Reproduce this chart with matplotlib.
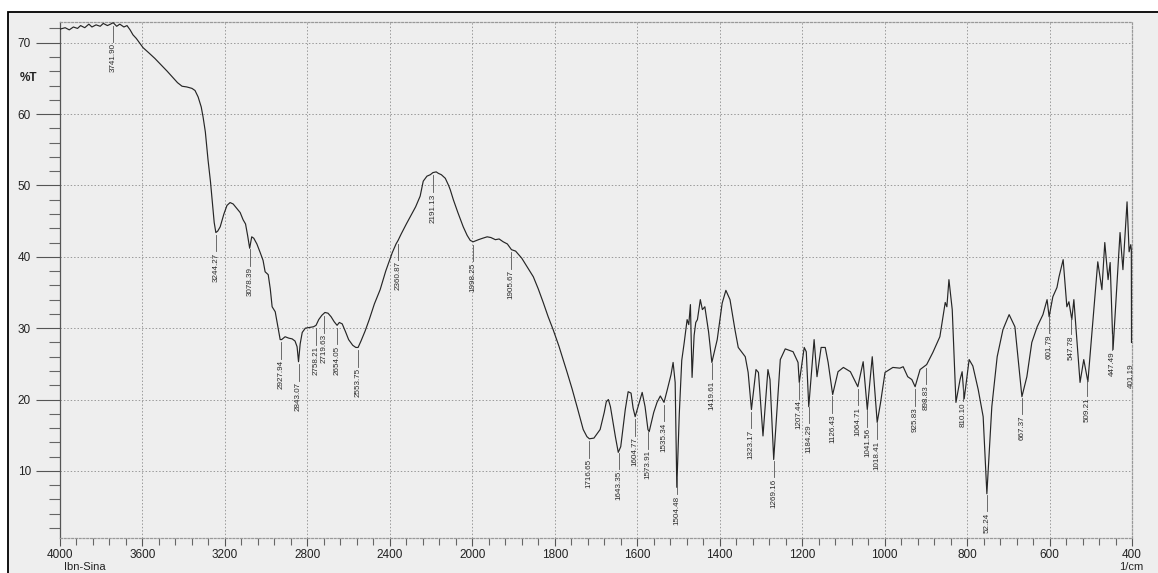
import numpy as np
import matplotlib
matplotlib.use("Agg")
import matplotlib.pyplot as plt
from matplotlib.patches import Rectangle

# spectrum (wavenumber in 1/cm, transmittance in %T)
wavenumber = [
    4000, 3975, 3955, 3935, 3915, 3900, 3880, 3860, 3845, 3825, 3805, 3790,
    3770, 3755, 3742, 3725, 3710, 3690, 3675, 3660, 3646, 3630, 3610, 3597,
    3570, 3540, 3510, 3480, 3452, 3430, 3408, 3385, 3360, 3345, 3330, 3315,
    3306, 3295, 3282, 3270, 3262, 3252, 3244, 3235, 3223, 3205, 3190, 3175,
    3160, 3140, 3126, 3112, 3100, 3090, 3080, 3070, 3060, 3045, 3029, 3015,
    3005, 2990, 2980, 2971, 2956, 2945, 2932, 2925, 2908, 2890, 2874, 2860,
    2850, 2843, 2835, 2825, 2810, 2790, 2770, 2758, 2745, 2730, 2715, 2700,
    2685, 2670, 2656, 2645, 2631, 2615, 2600, 2580, 2565, 2554, 2540, 2520,
    2500, 2475, 2447, 2420, 2388, 2370, 2360, 2345, 2320, 2301, 2275, 2253,
    2238, 2220, 2204, 2191, 2175, 2165, 2150, 2131, 2115, 2107, 2092, 2070,
    2044, 2025, 2010, 1998, 1985, 1975, 1964, 1955, 1944, 1935, 1925, 1915,
    1905, 1895, 1880, 1865, 1852, 1840, 1828, 1816, 1804, 1790, 1770, 1758,
    1746, 1731, 1722, 1716, 1705, 1690, 1680, 1675, 1670, 1665, 1658, 1653,
    1646, 1640, 1629, 1622, 1615, 1610, 1605, 1598, 1588, 1581, 1574, 1571,
    1560, 1552, 1544, 1535, 1527, 1518, 1513, 1508, 1504, 1498, 1492, 1486,
    1479, 1475, 1471, 1467, 1462, 1458, 1454, 1447, 1442, 1436, 1427, 1419,
    1406, 1394, 1385, 1375, 1363, 1355, 1338, 1331, 1323, 1312, 1306, 1295,
    1283, 1278, 1269, 1253, 1241, 1222, 1210, 1207, 1195, 1190, 1184, 1171,
    1164, 1154, 1144, 1137, 1126, 1113, 1100, 1083, 1065, 1052, 1042, 1030,
    1018, 1010, 999, 980, 963, 955, 944, 934, 926, 914, 898, 883,
    866, 853, 849, 844, 836, 827, 817, 812, 807, 795, 786, 773,
    761, 752, 740, 727, 713, 698, 684, 667, 655, 643, 630, 616,
    606, 601, 592, 582, 577, 567, 558, 553, 546, 541, 526, 517,
    507, 490, 483, 473, 466, 458, 453, 446, 437, 429, 422, 412,
    407, 403, 401.6, 401.19, 400,
]
transmittance = [
    71.9, 72.1, 71.8, 72.2, 72.0, 72.4, 72.1, 72.6, 72.2, 72.5, 72.3, 72.7,
    72.4, 72.6, 72.8, 72.3, 72.6, 72.2, 72.4, 71.8, 71.1, 70.6, 69.8, 69.3,
    68.6, 67.8, 66.9, 66.0, 65.1, 64.4, 63.9, 63.8, 63.6, 63.3, 62.4, 61.0,
    59.6, 57.5, 53.6, 50.5, 48.0, 44.8, 43.4, 43.6, 44.2, 46.0, 47.2, 47.6,
    47.4, 46.7, 46.2, 45.2, 44.6, 43.0, 41.2, 42.8, 42.6, 41.8, 40.6, 39.5,
    37.9, 37.5, 35.5, 33.0, 32.3, 30.5, 28.4, 28.4, 28.8, 28.6, 28.5, 28.2,
    27.4, 25.3, 27.8, 29.4, 30.0, 30.1, 30.2, 30.4, 31.2, 31.8, 32.2, 32.1,
    31.6, 30.9, 30.4, 30.8, 30.6, 29.5, 28.4, 27.6, 27.3, 27.3, 28.2, 29.6,
    31.2, 33.4, 35.4, 38.0, 40.6, 41.8, 42.3, 43.2, 44.6, 45.6, 47.0, 48.5,
    50.6, 51.3, 51.5, 51.8, 51.9, 51.7, 51.5, 51.0, 50.0, 49.4, 48.0, 46.2,
    44.2, 43.0, 42.3, 42.1, 42.4, 42.6, 42.8, 42.7, 42.4, 42.5, 42.1, 41.8,
    41.0, 40.8, 39.8, 38.4, 37.2, 35.5, 33.6, 31.6, 29.8, 27.5, 23.8, 21.5,
    19.0, 15.8, 14.8, 14.5, 14.6, 15.8, 18.2, 19.7, 20.0, 19.0, 16.5, 14.8,
    12.6, 13.4, 18.6, 21.1, 20.9, 18.8, 17.6, 19.0, 21.0, 19.0, 15.8, 15.5,
    18.2, 19.6, 20.5, 19.6, 21.4, 23.5, 25.2, 22.4, 7.7, 18.0, 25.5, 28.0,
    31.2, 30.5, 33.3, 23.1, 29.0, 30.8, 31.2, 34.0, 32.6, 33.0, 29.5, 25.2,
    28.4, 33.5, 35.3, 34.0, 29.8, 27.3, 26.0, 23.8, 18.6, 24.2, 23.8, 14.9,
    24.2, 22.8, 11.6, 25.6, 27.1, 26.7, 25.2, 22.4, 27.3, 26.7, 19.0, 28.4,
    23.2, 27.3, 27.3, 25.2, 20.7, 23.9, 24.5, 23.9, 21.8, 25.3, 18.6, 26.0,
    16.8, 19.5, 23.8, 24.5, 24.4, 24.6, 23.2, 22.8, 21.8, 24.2, 24.9, 26.6,
    28.8, 33.6, 33.0, 36.8, 32.6, 19.6, 22.8, 23.9, 20.1, 25.6, 24.7, 21.4,
    17.6, 6.8, 19.0, 26.0, 29.8, 31.9, 30.2, 20.4, 23.2, 28.0, 30.2, 31.9,
    34.0, 31.6, 34.4, 35.7, 37.2, 39.6, 33.0, 33.7, 31.2, 34.0, 22.4, 25.6,
    22.5, 34.4, 39.3, 35.4, 42.0, 36.8, 39.2, 27.0, 35.7, 43.4, 38.2, 47.7,
    40.7, 41.7, 41.0, 28.0, 28.0,
]

# peak picks printed on the chart
peak_pos = [
    3741.90, 3244.27, 3078.39, 2927.94, 2843.07, 2758.21, 2719.63, 2654.05,
    2553.75, 2360.87, 2191.13, 1998.25, 1905.67, 1716.65, 1643.35, 1604.77,
    1573.91, 1535.34, 1504.48, 1419.61, 1323.17, 1269.16, 1207.44, 1184.29,
    1126.43, 1064.71, 1041.56, 1018.41, 925.83, 898.83, 810.10, 752.24,
    667.37, 601.79, 547.78, 509.21, 447.49, 401.19,
]
peak_text = [
    "3741.90", "3244.27", "3078.39", "2927.94", "2843.07", "2758.21", "2719.63", "2654.05",
    "2553.75", "2360.87", "2191.13", "1998.25", "1905.67", "1716.65", "1643.35", "1604.77",
    "1573.91", "1535.34", "1504.48", "1419.61", "1323.17", "1269.16", "1207.44", "1184.29",
    "1126.43", "1064.71", "1041.56", "1018.41", "925.83", "898.83", "810.10", "52.24",
    "667.37", "601.79", "547.78", "509.21", "447.49", "401.19",
]

x_major = [4000, 3600, 3200, 2800, 2400, 2000, 1800, 1600, 1400, 1200, 1000, 800, 600, 400]
y_major = [10, 20, 30, 40, 50, 60, 70]

wn = np.array(wavenumber, dtype=float)
tr = np.array(transmittance, dtype=float)


# Shimadzu style: the range above 2000 1/cm is printed at half scale
def fwd(x):
    x = np.asarray(x, dtype=float)
    return np.where(x > 2000, 2000 + (x - 2000) / 2.0, x)


def inv(u):
    u = np.asarray(u, dtype=float)
    return np.where(u > 2000, 2000 + (u - 2000) * 2.0, u)


plt.rcParams['font.family'] = ['Liberation Sans', 'DejaVu Sans']

W, H = 1158, 573
fig = plt.figure(figsize=(W / 100, H / 100), dpi=100, facecolor='white')

# scanned paper with its frame
fig.add_artist(Rectangle((8 / W, -0.1), 1.2, 1.1 - 12 / H, transform=fig.transFigure,
                         facecolor='#eeeeee', edgecolor='black', lw=1.3, zorder=-1))

ax = fig.add_axes([60 / W, 1 - 538 / H, (1132 - 60) / W, (538 - 22) / H])
ax.set_facecolor('none')
ax.set_xscale('function', functions=(fwd, inv))
ax.set_xlim(4000, 400)
ax.set_ylim(0.6, 72.9)

ax.plot(wn, tr, color='#262626', lw=0.85, zorder=3)

# peak labels with leader lines
order = np.argsort(wn)
for pos, txt in zip(peak_pos, peak_text):
    yv = np.interp(pos, wn[order], tr[order])
    top = yv - 2.7
    ax.plot([pos, pos], [yv - 0.4, top], color='#555555', lw=0.6, zorder=3)
    ax.text(pos, top - 0.2, txt, rotation=90, ha='center', va='top', fontsize=5.8,
            color='#2a2a2a', clip_on=True, zorder=4)

ax.set_xticks(x_major)
ax.set_xticklabels([str(v) for v in x_major])
x_minor = [v for v in list(np.arange(4000, 2000, -80)) + list(np.arange(2000, 399, -40))
           if v not in x_major]
ax.set_xticks(x_minor, minor=True)
ax.set_yticks(y_major)
ax.set_yticks([v for v in range(2, 73, 2) if v not in y_major], minor=True)

ax.grid(True, which='major', linestyle=(0, (1.5, 2)), color='#9a9a9a', lw=0.7)

ax.tick_params(axis='y', which='major', length=17, width=0.8, color='#555555',
               labelsize=8.5, pad=4, labelcolor='#222222')
ax.tick_params(axis='y', which='minor', length=8, width=0.8, color='#666666')
ax.tick_params(axis='x', which='major', length=6, width=0.8, color='#555555',
               labelsize=8.5, pad=2, labelcolor='#222222')
ax.tick_params(axis='x', which='minor', length=5, width=0.8, color='#666666')

ax.spines['left'].set_color('#555555')
ax.spines['left'].set_linewidth(0.9)
for side in ('top', 'right', 'bottom'):
    ax.spines[side].set_color('#999999')
    ax.spines[side].set_linestyle((0, (1.5, 1.5)))
    ax.spines[side].set_linewidth(0.9)

fig.text(28 / W, 1 - 78 / H, "%T", ha='center', va='center', fontsize=8.5,
         fontweight='bold', color='#222222')
fig.text(64 / W, 1 - 567 / H, "Ibn-Sina", ha='left', va='center', fontsize=8,
         color='#222222')
fig.text(1131 / W, 1 - 567 / H, "1/cm", ha='center', va='center', fontsize=8,
         color='#222222')

fig.savefig("out.png", dpi=100, facecolor=fig.get_facecolor())
